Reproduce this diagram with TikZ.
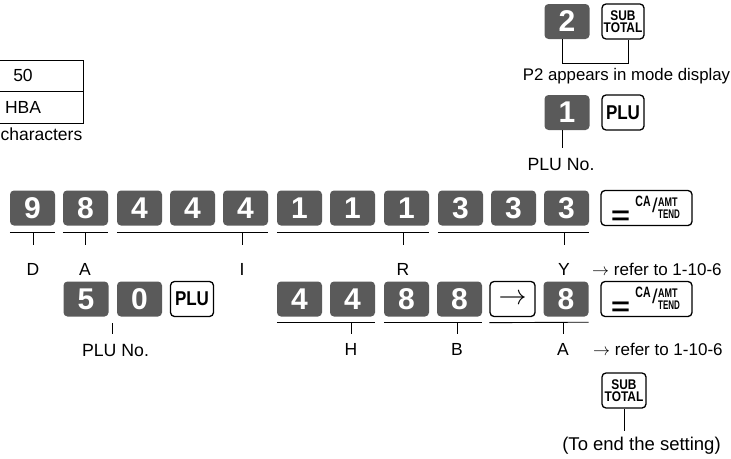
\RequirePackage{fix-cm}
\documentclass[tikz,border=0pt]{standalone}
\usepackage{fontspec}
\setmainfont{Liberation Sans}
\usepackage{graphicx}
\definecolor{keyfill}{RGB}{90,90,90}
\tikzset{
  dk/.style={fill=keyfill, rounded corners=4pt, minimum width=45pt, minimum height=35pt,
    inner sep=0pt, text=white, font=\fontsize{30}{30}\selectfont\bfseries},
  wk/.style={draw=black, line width=1.3pt, fill=white, rounded corners=4pt,
    minimum height=35pt, inner sep=0pt, font=\bfseries},
  stkey/.style={wk, align=center, font=\fontsize{14}{11.5}\selectfont\bfseries},
  lbl/.style={font=\fontsize{17.5}{21}\selectfont, inner sep=0pt, anchor=base},
  ln/.style={line width=0.9pt},
  keytxt/.style={inner sep=0pt},
}
\newcommand\plutext{\fontsize{20}{20}\selectfont\scalebox{0.85}[1]{PLU}}
\newcommand\subtotaltext{\scalebox{0.85}[1]{SUB}\\\scalebox{0.85}[1]{TOTAL}}
\newcommand\CAkey[3]{%
  \node[wk, minimum width=91pt] (#1) at (#2,#3) {};
  \begin{scope}[shift={(#2,#3)}]
    \node[keytxt, font=\fontsize{26}{26}\selectfont\bfseries] (#1eq) at (-26,9.5) {\scalebox{1.25}[1]{=}};
    \node[keytxt, anchor=base, font=\fontsize{15}{15}\selectfont\bfseries] (#1ca) at (-3.5,-2) {\scalebox{0.7}[1]{CA}};
    \node[keytxt, font=\fontsize{20}{20}\selectfont] (#1sl) at (8.5,-3) {/};
    \node[keytxt, anchor=base west, font=\fontsize{12.5}{12.5}\selectfont\bfseries] (#1amt) at (11.5,-1.5) {\scalebox{0.72}[1]{AMT}};
    \node[keytxt, anchor=base west, font=\fontsize{12.5}{12.5}\selectfont\bfseries] (#1tend) at (11.5,10.5) {\scalebox{0.64}[1]{TEND}};
  \end{scope}}
\begin{document}
\begin{tikzpicture}[x=1pt, y=-1pt]
\useasboundingbox (0,0) rectangle (731,458);

% ---- table (cut at the left) ----
\draw[ln] (-40,60) rectangle (83,123);
\draw[ln] (-40,91) -- (83,91);
\node[lbl] (t50) at (23,81) {50};
\node[lbl] (thba) at (23,113) {HBA};
\node[lbl, anchor=base east] (tchar) at (82.5,140) {characters};

% ---- top right ----
\node[dk] (k2) at (567,21.5) {2};
\node[stkey, minimum width=42pt] (st1) at (623,21.5) {\subtotaltext};
\draw[ln] ([xshift=-5pt]k2.south) -- ++(0,24) -| ([xshift=5pt]st1.south);
\node[lbl, font=\fontsize{16.8}{20}\selectfont] (p2) at (626.5,80) {P2 appears in mode display};

\node[dk] (k1) at (567,112.5) {1};
\node[wk, minimum width=42pt] (plu1) at (623,112.5) {\plutext};
\node[lbl, font=\fontsize{17.7}{21}\selectfont] (pluno1) at (561,170) {PLU No.};
\draw[ln] ([xshift=-5pt]k1.south) -- ++(0,18);

% ---- row 1 ----
\node[dk] (r9)  at (32.5,208) {9};
\node[dk] (r8)  at (85.5,208) {8};
\node[dk] (r4a) at (139.5,208) {4};
\node[dk] (r4b) at (192.5,208) {4};
\node[dk] (r4c) at (245.5,208) {4};
\node[dk] (r1a) at (299.5,208) {1};
\node[dk] (r1b) at (352.5,208) {1};
\node[dk] (r1c) at (406.5,208) {1};
\node[dk] (r3a) at (460.5,208) {3};
\node[dk] (r3b) at (513.5,208) {3};
\node[dk] (r3c) at (566.5,208) {3};
\CAkey{ca1}{646.5}{208}

\draw[ln] ([yshift=-6.5pt]r9.south west) -- ([yshift=-6.5pt]r9.south east);
\draw[ln] ([yshift=-6.5pt]r8.south west) -- ([yshift=-6.5pt]r8.south east);
\draw[ln] ([yshift=-6.5pt]r4a.south west) -- ([yshift=-6.5pt]r4c.south east);
\draw[ln] ([yshift=-6.5pt]r1a.south west) -- ([yshift=-6.5pt]r1c.south east);
\draw[ln] ([yshift=-6.5pt]r3a.south west) -- ([yshift=-6.5pt]r3c.south east);

\coordinate (u1) at (0,232);
\node[lbl] (lD) at (33,275) {D};
\node[lbl] (lA1) at (85,275) {A};
\node[lbl] (lI) at (242,275) {I};
\node[lbl] (lR) at (403,275) {R};
\node[lbl] (lY) at (564,275) {Y};
\foreach \n in {lD,lA1,lI,lR,lY} {\draw[ln] (\n |- u1) -- ++(0,13);}
\node[lbl, anchor=base west, font=\fontsize{17}{20}\selectfont] (ref1) at (592,275) {$\rightarrow$ refer to 1-10-6};

% ---- row 2 ----
\node[dk] (s5) at (86,299) {5};
\node[dk] (s0) at (139.5,299) {0};
\node[wk, minimum width=43pt] (plu2) at (192,299) {\plutext};
\node[dk] (s4a) at (299.5,299) {4};
\node[dk] (s4b) at (352.5,299) {4};
\node[dk] (s8a) at (406.5,299) {8};
\node[dk] (s8b) at (459.5,299) {8};
\node[wk, minimum width=45pt, font=\fontsize{28}{28}\selectfont] (sarr) at (512.5,299) {$\rightarrow$};
\node[dk] (s8c) at (566,299) {8};
\CAkey{ca2}{646.5}{299}

\draw[ln] ([yshift=-5.5pt]s4a.south west) -- ([yshift=-5.5pt]s4b.south east);
\draw[ln] ([yshift=-5.5pt]s8a.south west) -- ([yshift=-5.5pt]s8b.south east);
\draw[ln] ([yshift=-5.5pt]sarr.south west) -- ([yshift=-5.5pt]s8c.south east);

\coordinate (u2) at (0,322);
\coordinate (t5) at (112.5,323);
\draw[ln] (t5) -- ++(0,11);
\node[lbl, font=\fontsize{17.7}{21}\selectfont] (pluno2) at (115.5,356) {PLU No.};
\node[lbl] (lH) at (351,355) {H};
\node[lbl] (lB) at (457,355) {B};
\node[lbl] (lA2) at (563,355) {A};
\foreach \n in {lH,lB,lA2} {\draw[ln] (\n |- u2) -- ++(0,12);}
\node[lbl, anchor=base west, font=\fontsize{17}{20}\selectfont] (ref2) at (593,355) {$\rightarrow$ refer to 1-10-6};

% ---- bottom ----
\node[stkey, minimum width=44pt] (st2) at (624,390.5) {\subtotaltext};
\draw[ln] (st2.south) -- ++(0,22);
\node[lbl, font=\fontsize{18.5}{22}\selectfont] (endtxt) at (641.5,450) {(To end the setting)};
\end{tikzpicture}
\end{document}
